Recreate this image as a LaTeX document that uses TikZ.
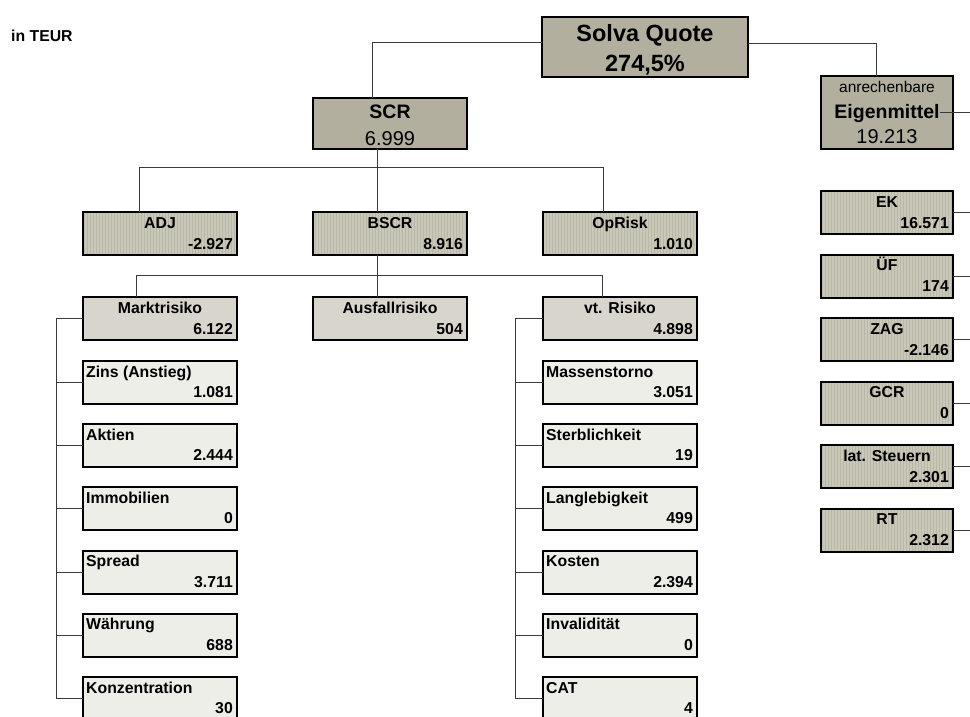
\documentclass[tikz,border=0pt]{standalone}
\usepackage{fontspec}
\setmainfont{Liberation Sans}
\usetikzlibrary{patterns}
\definecolor{topfill}{HTML}{B2AF9E}
\definecolor{midfill}{HTML}{CAC8B9}
\definecolor{midstripe}{HTML}{B8B6A5}
\definecolor{lvlfill}{HTML}{D8D6CC}
\definecolor{subfill}{HTML}{EEEEE8}
\definecolor{linecol}{HTML}{3A3A3A}
\begin{document}
\begin{tikzpicture}[x=1pt,y=-1pt,
  box/.style={draw=black,line width=2pt,rectangle,anchor=north west,inner sep=0pt,outer sep=0pt,minimum height=43pt,minimum width=155pt},
  topbox/.style={box,fill=topfill},
  midbox/.style={box,preaction={fill=midfill},pattern=vertical lines,pattern color=midstripe},
  lvlbox/.style={box,fill=lvlfill},
  subbox/.style={box,fill=subfill},
  rbox/.style={midbox,minimum width=132pt},
  conn/.style={draw=linecol,line width=0.9pt},
  lbl/.style={font=\fontsize{15.8}{18}\selectfont\bfseries,inner sep=0pt},
  big/.style={font=\fontsize{23.5}{26}\selectfont\bfseries,inner sep=0pt},
  midb/.style={font=\fontsize{19.5}{22}\selectfont\bfseries,inner sep=0pt},
  midr/.style={font=\fontsize{20}{22}\selectfont,inner sep=0pt},
  smallr/.style={font=\fontsize{15.5}{18}\selectfont,inner sep=0pt}
]
\useasboundingbox (0,0) rectangle (970,716);
\clip (0,0) rectangle (970,716);

\node[lbl,anchor=base west] (teur) at (11,41) {in TEUR};

% top boxes
\node[topbox,minimum width=206pt,minimum height=60pt] (solva) at (542,17) {};
\node[big,anchor=base] (solva-t) at ([yshift=-24pt]solva.north) {Solva Quote};
\node[big,anchor=base] (solva-v) at ([yshift=-54pt]solva.north) {274,5\%};

\node[topbox,minimum width=154pt,minimum height=51pt] (scr) at (313,98) {};
\node[midb,anchor=base] (scr-t) at ([yshift=-20.5pt]scr.north) {SCR};
\node[midr,anchor=base] (scr-v) at ([yshift=-47pt]scr.north) {6.999};

\node[topbox,minimum width=132pt,minimum height=73pt] (eig) at (821,76) {};
\node[smallr,anchor=base] (eig-a) at ([yshift=-16pt]eig.north) {anrechenbare};
\node[midb,anchor=base] (eig-t) at ([yshift=-42pt]eig.north) {Eigenmittel};
\node[midr,anchor=base] (eig-v) at ([yshift=-67pt]eig.north) {19.213};

% second row
\foreach \n/\x/\t/\v in {adj/83/ADJ/-2.927, bscr/313/BSCR/8.916, oprisk/543/OpRisk/1.010} {
  \node[midbox,minimum width=154pt] (\n) at (\x,212) {};
  \node[lbl,anchor=base] (\n-t) at ([yshift=-16.5pt]\n.north) {\t};
  \node[lbl,anchor=base east] (\n-v) at ([xshift=-4pt,yshift=-37pt]\n.north east) {\v};
}

% third row
\foreach \n/\x/\t/\v in {markt/83/Marktrisiko/6.122, ausf/313/Ausfallrisiko/504, vtr/543/vt. Risiko/4.898} {
  \node[lvlbox,minimum width=154pt] (\n) at (\x,297) {};
  \node[lbl,anchor=base] (\n-t) at ([yshift=-16.5pt]\n.north) {\t};
  \node[lbl,anchor=base east] (\n-v) at ([xshift=-4pt,yshift=-37.5pt]\n.north east) {\v};
}

% market risk items
\foreach \n/\t/\v [count=\i from 0] in {zins/Zins (Anstieg)/1.081, aktien/Aktien/2.444, immo/Immobilien/0, spread/Spread/3.711, waehr/Währung/688, konz/Konzentration/30} {
  \node[subbox,minimum width=154pt] (\n) at (83,{361+63.2*\i}) {};
  \node[lbl,anchor=base west] (\n-t) at ([xshift=3pt,yshift=-16pt]\n.north west) {\t};
  \node[lbl,anchor=base east] (\n-v) at ([xshift=-4pt,yshift=-36.5pt]\n.north east) {\v};
  \draw[conn] (\n.west) -- (\n.west -| 56,0);
}

% underwriting risk items
\foreach \n/\t/\v [count=\i from 0] in {storno/Massenstorno/3.051, sterb/Sterblichkeit/19, lang/Langlebigkeit/499, kosten/Kosten/2.394, inval/Invalidität/0, cat/CAT/4} {
  \node[subbox,minimum width=154pt] (\n) at (543,{361+63.2*\i}) {};
  \node[lbl,anchor=base west] (\n-t) at ([xshift=3pt,yshift=-16pt]\n.north west) {\t};
  \node[lbl,anchor=base east] (\n-v) at ([xshift=-4pt,yshift=-36.5pt]\n.north east) {\v};
  \draw[conn] (\n.west) -- (\n.west -| 515,0);
}

% own funds items
\foreach \n/\t/\v [count=\i from 0] in {ek/EK/16.571, uef/ÜF/174, zag/ZAG/-2.146, gcr/GCR/0, lat/lat. Steuern/2.301, rt/RT/2.312} {
  \node[rbox] (\n) at (821,{191+63.5*\i}) {};
  \node[lbl,anchor=base] (\n-t) at ([yshift=-16pt]\n.north) {\t};
  \node[lbl,anchor=base east] (\n-v) at ([xshift=-4pt,yshift=-37pt]\n.north east) {\v};
  \draw[conn] (\n.east) -- (\n.east -| 975,0);
}

% connectors
\draw[conn] (solva.west |- 0,42) -| (scr.north -| 372,0);
\draw[conn] (solva.east |- 0,43) -| (eig.north -| 876,0);
\draw[conn] ([xshift=-13pt]eig.east) -- ++(35,0);

\coordinate (j1) at (139,167);
\coordinate (j2) at (603,167);
\draw[conn] (scr.south -| 377,0) -- (bscr.north -| 377,0);
\draw[conn] (adj.north -| j1) -- (j1) -- (j2) -- (oprisk.north -| j2);

\coordinate (j3) at (136,275);
\coordinate (j4) at (602,275);
\draw[conn] (bscr.south -| 377,0) -- (ausf.north -| 377,0);
\draw[conn] (markt.north -| j3) -- (j3) -- (j4) -- (vtr.north -| j4);

\draw[conn] (markt.west) -| (konz.west -| 56,0);
\draw[conn] (vtr.west) -| (cat.west -| 515,0);
\end{tikzpicture}
\end{document}
